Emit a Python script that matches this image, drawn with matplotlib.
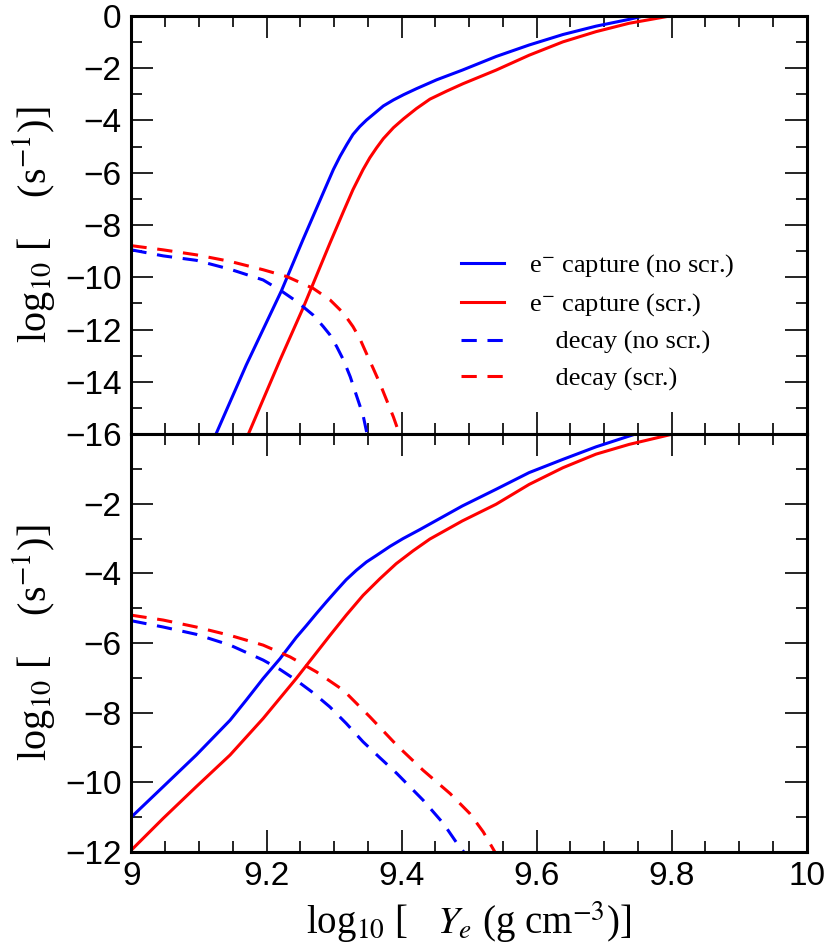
import numpy as np
import matplotlib
matplotlib.use("Agg")
import matplotlib.pyplot as plt
from matplotlib.ticker import MultipleLocator

# -----------------------------
# Dane
# -----------------------------
# panel gorny
top_cap_noscr_x = [9.125, 9.170, 9.222, 9.254, 9.284, 9.299, 9.309, 9.319, 9.328, 9.338,
                   9.348, 9.361, 9.373, 9.388, 9.403, 9.422, 9.452, 9.490, 9.540, 9.589,
                   9.639, 9.688, 9.737, 9.760]
top_cap_noscr_y = [-16.0, -13.35, -10.52, -8.56, -6.77, -5.88, -5.37, -4.92, -4.54, -4.24,
                   -3.99, -3.71, -3.45, -3.22, -3.02, -2.79, -2.45, -2.08, -1.56, -1.12,
                   -0.72, -0.40, -0.14, 0.0]
top_cap_scr_x = [9.173, 9.220, 9.254, 9.294, 9.314, 9.328, 9.343, 9.353, 9.363, 9.373,
                 9.388, 9.403, 9.422, 9.442, 9.467, 9.491, 9.540, 9.589, 9.639, 9.688,
                 9.737, 9.800]
top_cap_scr_y = [-16.0, -13.16, -11.18, -8.69, -7.48, -6.65, -5.88, -5.43, -5.05, -4.70,
                 -4.28, -3.94, -3.55, -3.19, -2.88, -2.60, -2.08, -1.51, -1.00, -0.61,
                 -0.29, 0.0]
top_dec_noscr_x = [9.0, 9.047, 9.096, 9.146, 9.195, 9.222, 9.240, 9.254, 9.269, 9.284,
                   9.294, 9.304, 9.314, 9.324, 9.333, 9.343, 9.349]
top_dec_noscr_y = [-8.95, -9.18, -9.35, -9.69, -10.10, -10.52, -10.84, -11.12, -11.44, -11.88,
                   -12.20, -12.65, -13.16, -13.80, -14.50, -15.27, -16.0]
top_dec_scr_x = [9.0, 9.047, 9.096, 9.146, 9.195, 9.230, 9.269, 9.294, 9.314, 9.328,
                 9.338, 9.348, 9.358, 9.368, 9.378, 9.388, 9.397]
top_dec_scr_y = [-8.79, -8.95, -9.14, -9.39, -9.71, -9.97, -10.42, -10.86, -11.37, -11.88,
                 -12.33, -12.91, -13.48, -14.06, -14.70, -15.34, -16.0]

# panel dolny
bot_cap_noscr_x = [9.0, 9.047, 9.096, 9.146, 9.170, 9.195, 9.220, 9.244, 9.259, 9.274,
                   9.289, 9.304, 9.318, 9.333, 9.348, 9.363, 9.383, 9.402, 9.427, 9.452,
                   9.490, 9.540, 9.589, 9.639, 9.688, 9.745]
bot_cap_noscr_y = [-11.0, -10.13, -9.22, -8.22, -7.64, -7.02, -6.45, -5.84, -5.50, -5.15,
                   -4.81, -4.48, -4.18, -3.91, -3.67, -3.48, -3.22, -3.00, -2.74, -2.47,
                   -2.06, -1.58, -1.10, -0.72, -0.36, 0.0]
bot_cap_scr_x = [9.0, 9.047, 9.096, 9.146, 9.195, 9.244, 9.294, 9.318, 9.343, 9.368,
                 9.392, 9.417, 9.442, 9.490, 9.540, 9.589, 9.639, 9.688, 9.737, 9.800]
bot_cap_scr_y = [-11.95, -11.04, -10.13, -9.22, -8.17, -7.02, -5.78, -5.20, -4.63, -4.15,
                 -3.72, -3.35, -3.01, -2.49, -2.01, -1.44, -0.96, -0.57, -0.29, 0.0]
bot_dec_noscr_x = [9.0, 9.047, 9.096, 9.146, 9.195, 9.220, 9.244, 9.269, 9.294, 9.318,
                   9.343, 9.368, 9.393, 9.432, 9.462, 9.485, 9.492]
bot_dec_noscr_y = [-5.36, -5.54, -5.75, -6.06, -6.49, -6.76, -7.07, -7.43, -7.84, -8.31,
                   -8.84, -9.30, -9.75, -10.52, -11.19, -11.84, -12.0]
bot_dec_scr_x = [9.0, 9.047, 9.096, 9.146, 9.195, 9.235, 9.274, 9.314, 9.353, 9.393,
                 9.432, 9.472, 9.501, 9.521, 9.538]
bot_dec_scr_y = [-5.20, -5.34, -5.54, -5.78, -6.06, -6.40, -6.83, -7.36, -8.12, -8.94,
                 -9.66, -10.33, -10.90, -11.43, -12.0]

labels = [r"e$^{-}$ capture (no scr.)", r"e$^{-}$ capture (scr.)",
          r"    decay (no scr.)", r"    decay (scr.)"]

top_yticks = [0, -2, -4, -6, -8, -10, -12, -14, -16]
bot_yticks = [-2, -4, -6, -8, -10, -12]
xticks = [9, 9.2, 9.4, 9.6, 9.8, 10]

# -----------------------------
# Styl
# -----------------------------
plt.rcParams['font.family'] = ['Liberation Sans', 'DejaVu Sans']
plt.rcParams['mathtext.fontset'] = 'stix'
plt.rcParams['axes.linewidth'] = 2.2
serif = ['Liberation Serif', 'DejaVu Serif']
lw = 2.2
dash = (5, 3.5)

fig = plt.figure(figsize=(8.3, 9.51), dpi=100)
ax1 = fig.add_axes([0.1584, 0.5433, 0.8135, 0.4402])
ax2 = fig.add_axes([0.1584, 0.1044, 0.8135, 0.4389])

ax1.plot(top_cap_noscr_x, top_cap_noscr_y, color='blue', lw=lw, label=labels[0])
ax1.plot(top_cap_scr_x, top_cap_scr_y, color='red', lw=lw, label=labels[1])
ax1.plot(top_dec_noscr_x, top_dec_noscr_y, color='blue', lw=lw, dashes=dash, label=labels[2])
ax1.plot(top_dec_scr_x, top_dec_scr_y, color='red', lw=lw, dashes=dash, label=labels[3])

ax2.plot(bot_cap_noscr_x, bot_cap_noscr_y, color='blue', lw=lw)
ax2.plot(bot_cap_scr_x, bot_cap_scr_y, color='red', lw=lw)
ax2.plot(bot_dec_noscr_x, bot_dec_noscr_y, color='blue', lw=lw, dashes=dash)
ax2.plot(bot_dec_scr_x, bot_dec_scr_y, color='red', lw=lw, dashes=dash)

ax1.set_ylim(-16, 0)
ax2.set_ylim(-12, 0)
ax1.set_yticks(top_yticks)
ax1.set_yticklabels([f"{v}".replace('-', '\u2212') for v in top_yticks])
ax2.set_yticks(bot_yticks)
ax2.set_yticklabels([f"{v}".replace('-', '\u2212') for v in bot_yticks])

for ax in (ax1, ax2):
    ax.set_xlim(9, 10)
    ax.set_xticks(xticks)
    ax.xaxis.set_minor_locator(MultipleLocator(0.05))
    ax.yaxis.set_minor_locator(MultipleLocator(1))
    ax.tick_params(which='both', direction='in', top=True, right=True, width=1.2)
    ax.tick_params(which='major', length=16, labelsize=24, pad=7)
    ax.tick_params(which='minor', length=8)
    ax.set_ylabel(r"log$_{10}$ [    (s$^{-1}$)]", family=serif, fontsize=29, labelpad=6)

ax1.tick_params(labelbottom=False)
ax2.set_xticklabels(['9', '9.2', '9.4', '9.6', '9.8', '10'])
ax2.set_xlabel(r"log$_{10}$ [   $Y_e$ (g cm$^{-3}$)]", family=serif, fontsize=28, labelpad=5)

ax1.legend(loc='upper left', bbox_to_anchor=(0.488, 0.434), frameon=False,
           prop={'family': serif, 'size': 19}, handlelength=1.63, handletextpad=0.95,
           labelspacing=0.46, borderaxespad=0, borderpad=0)

fig.savefig("out.png", dpi=100)
